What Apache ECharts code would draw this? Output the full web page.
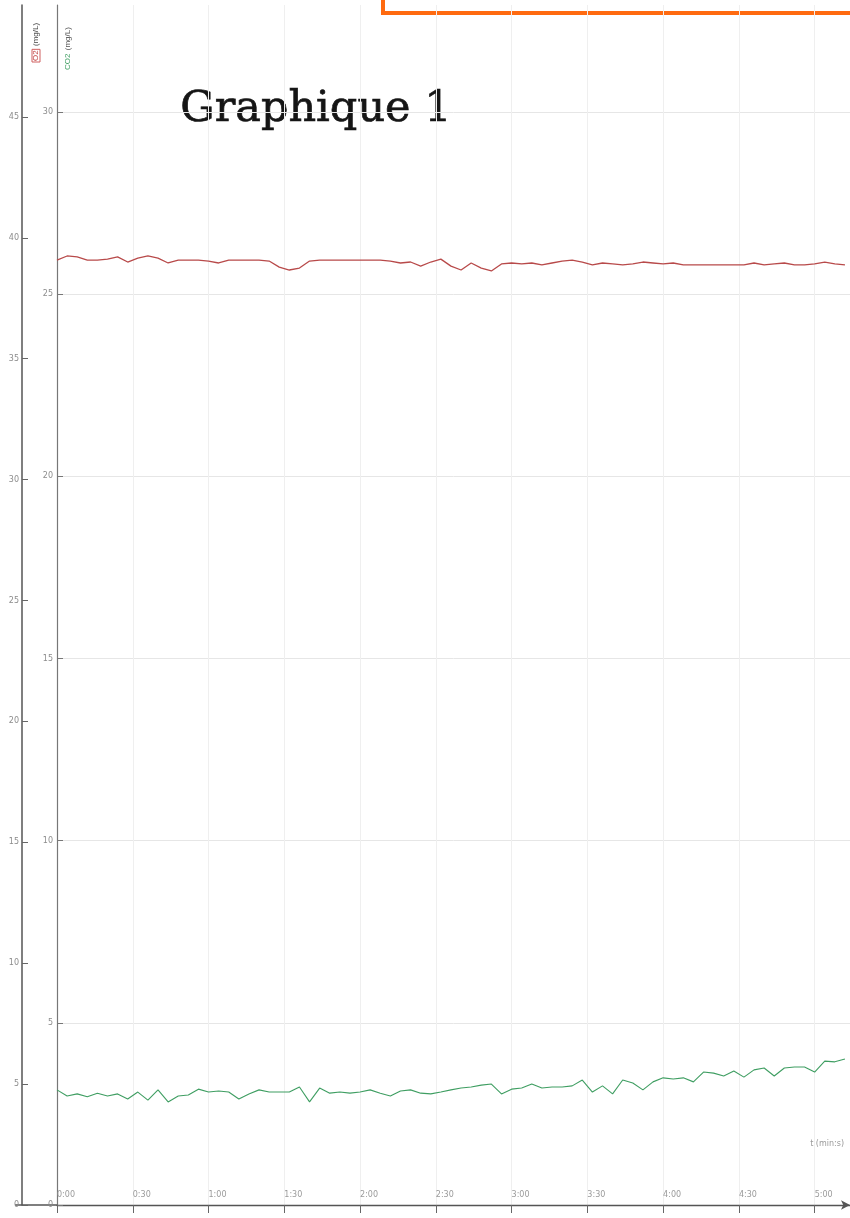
<!DOCTYPE html>
<html><head><meta charset="utf-8">
<script src="https://cdn.jsdelivr.net/npm/echarts@6/dist/echarts.min.js"></script>
<style>html,body{margin:0;padding:0;background:#fff}#c{width:850px;height:1218px}</style>
</head><body><div id="c"></div><script>
// sample times (s)
const times = [0,4,8,12,16,20,24,28,32,36,40,44,48,52,56,60,64,68,72,76,80,84,88,92,96,100,104,108,112,116,120,124,128,132,136,140,144,148,152,156,160,164,168,172,176,180,184,188,192,196,200,204,208,212,216,220,224,228,232,236,240,244,248,252,256,260,264,268,272,276,280,284,288,292,296,300,304,308,312];
// O2 (outer axis)
const o2Values = [39.08,39.25,39.21,39.08,39.08,39.12,39.21,39.00,39.16,39.25,39.16,38.96,39.08,39.08,39.08,39.04,38.96,39.08,39.08,39.08,39.08,39.04,38.79,38.67,38.75,39.04,39.08,39.08,39.08,39.08,39.08,39.08,39.08,39.04,38.96,39.00,38.83,39.00,39.12,38.83,38.67,38.96,38.75,38.63,38.92,38.96,38.92,38.96,38.88,38.96,39.04,39.08,39.00,38.88,38.96,38.92,38.88,38.92,39.00,38.96,38.92,38.96,38.88,38.88,38.88,38.88,38.88,38.88,38.88,38.96,38.88,38.92,38.96,38.88,38.88,38.92,39.00,38.92,38.88];
// CO2 (inner axis)
const co2Values = [3.16,2.99,3.05,2.97,3.07,2.99,3.05,2.91,3.10,2.88,3.16,2.83,2.99,3.02,3.18,3.10,3.13,3.10,2.91,3.05,3.16,3.10,3.10,3.10,3.24,2.83,3.21,3.07,3.10,3.07,3.10,3.16,3.07,2.99,3.13,3.16,3.07,3.05,3.10,3.16,3.21,3.24,3.29,3.32,3.05,3.18,3.21,3.32,3.21,3.24,3.24,3.27,3.43,3.10,3.27,3.05,3.43,3.35,3.16,3.38,3.49,3.46,3.49,3.38,3.65,3.62,3.54,3.68,3.51,3.71,3.76,3.54,3.76,3.79,3.79,3.65,3.95,3.93,4.01];
// x tick labels (every 30 s)
const xTickLabels = ['0:00','0:30','1:00','1:30','2:00','2:30','3:00','3:30','4:00','4:30','5:00'];
const outerTicks = [0,5,10,15,20,25,30,35,40,45];
const innerTicks = [0,5,10,15,20,25,30];

const chart = echarts.init(document.getElementById('c'), null, {renderer:'canvas'});
const lblStyle = {fontSize:8, color:'#8c8c8c', fontFamily:'DejaVu Sans'};
chart.setOption({
  animation:false,
  backgroundColor:'#fff',
  grid:{left:57, right:0, top:5, bottom:13, containLabel:false},
  xAxis:{
    type:'value', min:0, max:314, interval:30,
    axisLine:{show:true, onZero:false, lineStyle:{color:'#555', width:1.3}, symbol:['none','arrow'], symbolSize:[7,9]},
    axisTick:{show:true, length:8, lineStyle:{color:'#666'}},
    axisLabel:Object.assign({inside:true, align:'left', margin:6, showMaxLabel:false,
      formatter:v=>{const i=Math.round(v/30); return xTickLabels[i]!==undefined && Math.abs(v-i*30)<0.01 ? xTickLabels[i] : '';}}, lblStyle, {color:'#9a9a9a'}),
    splitLine:{show:true, lineStyle:{color:'#efefef', width:1}}
  },
  yAxis:[
    {type:'value', position:'left', offset:35, min:0, max:49.63, interval:5,
     axisLine:{show:true, onZero:false, lineStyle:{color:'#555', width:1.5}},
     axisTick:{show:true, inside:true, length:6, lineStyle:{color:'#666'}},
     axisLabel:Object.assign({margin:3, showMaxLabel:false,
       formatter:v=>outerTicks.indexOf(Math.round(v))>=0 && Math.abs(v-Math.round(v))<0.01 ? String(Math.round(v)) : ''}, lblStyle),
     splitLine:{show:false}},
    {type:'value', position:'left', offset:0, min:0, max:32.94, interval:5,
     axisLine:{show:true, onZero:false, lineStyle:{color:'#777', width:1.2}},
     axisTick:{show:true, inside:true, length:6, lineStyle:{color:'#777'}},
     axisLabel:Object.assign({margin:4, showMaxLabel:false,
       formatter:v=>innerTicks.indexOf(Math.round(v))>=0 && Math.abs(v-Math.round(v))<0.01 ? String(Math.round(v)) : ''}, lblStyle),
     splitLine:{show:true, lineStyle:{color:['#e6e6e6','#e6e6e6','#e6e6e6','#e6e6e6','#e6e6e6','#e6e6e6','#e6e6e6','rgba(0,0,0,0)'], width:1}}}
  ],
  series:[
    {type:'line', name:'O2', yAxisIndex:0, showSymbol:false, smooth:false,
     data:times.map((t,i)=>[t,o2Values[i]]),
     lineStyle:{color:'#b84a4a', width:1.3}},
    {type:'line', name:'CO2', yAxisIndex:1, showSymbol:false, smooth:false,
     data:times.map((t,i)=>[t,co2Values[i]]),
     lineStyle:{color:'#3f9e62', width:1.1}}
  ],
  graphic:[
    {type:'line', shape:{x1:15, y1:1205, x2:57, y2:1205}, style:{stroke:'#555', lineWidth:1.3}},
    {type:'rect', shape:{x:383, y:-20, width:500, height:33}, style:{fill:'#fff', stroke:'#ff6a10', lineWidth:4}},
    {type:'text', left:180, top:88, style:{text:'Graphique 1', font:'43px "DejaVu Serif"', fill:'#151515', stroke:'#151515', lineWidth:0.7}},
    {type:'text', x:36, y:62, rotation:Math.PI/2, style:{
      text:'{r|O2} {k|(mg/L)}', verticalAlign:'middle',
      rich:{r:{fontSize:8, fill:'#c04040', borderColor:'#d06060', borderWidth:1, padding:[0,1]}, k:{fontSize:8, fill:'#444'}}}},
    {type:'text', x:68, y:70, rotation:Math.PI/2, style:{
      text:'{g|CO2} {k|(mg/L)}', verticalAlign:'middle',
      rich:{g:{fontSize:8, fill:'#3f9e62'}, k:{fontSize:8, fill:'#555'}}}},
    {type:'text', right:6, top:1140, style:{text:'t (min:s)', font:'8px "DejaVu Sans"', fill:'#999'}}
  ]
});
</script></body></html>
